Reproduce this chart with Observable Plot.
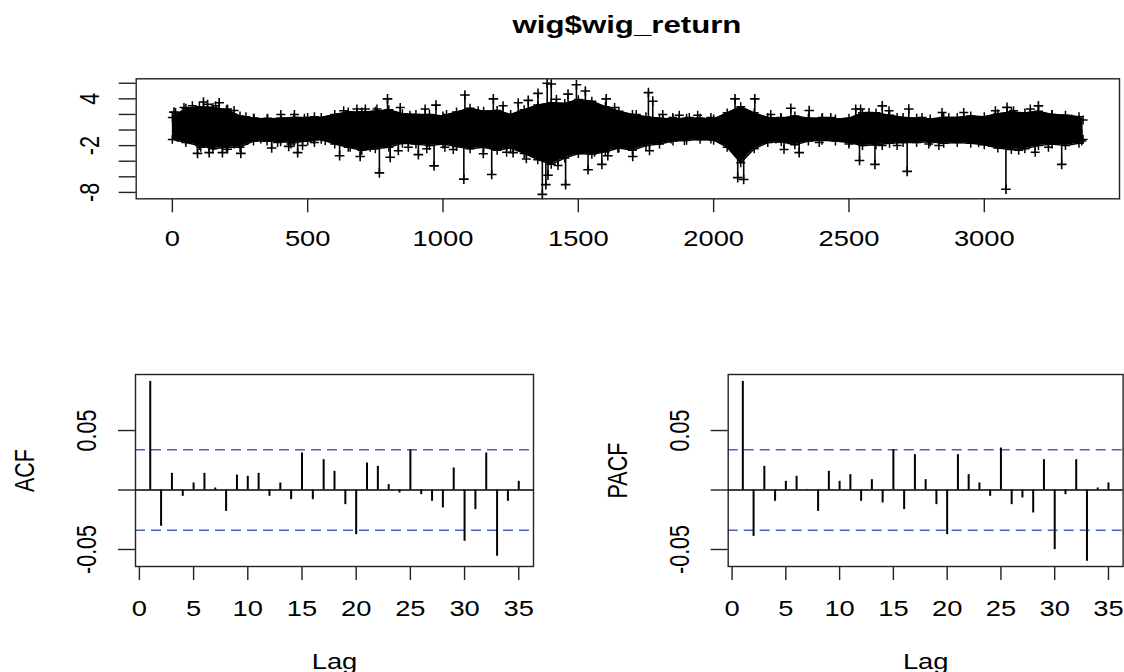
<!DOCTYPE html>
<html>
<head>
<meta charset="utf-8">
<script src="https://cdn.jsdelivr.net/npm/d3@7"></script>
<script src="https://cdn.jsdelivr.net/npm/@observablehq/plot@0.6"></script>
<style>
  html, body { margin: 0; padding: 0; background: #fff; }
  #wrap { position: relative; width: 1124px; height: 672px; overflow: hidden; background: #fff; font-family: "Liberation Sans", Arial, sans-serif; }
  #title { position: absolute; left: 0; width: 1254px; top: 11px; text-align: center; font-weight: bold; font-size: 24px; line-height: 28px; color: #000; transform: scaleX(1.3); transform-origin: 627px 50%; }
  .panel { position: absolute; }
</style>
</head>
<body>
<div id="wrap">
  <div id="title">wig$wig_return</div>
  <div id="top" class="panel" style="left:0;top:0"></div>
  <div id="acf" class="panel" style="left:0;top:300px"></div>
  <div id="pacf" class="panel" style="left:562px;top:300px"></div>
</div>
<script>
// ---- data ----
const nObs = 3365;
const envIndex = [0,50,100,150,200,250,300,350,400,450,500,550,600,650,700,750,800,850,900,950,1000,1050,1100,1150,1200,1250,1300,1350,1400,1450,1500,1550,1600,1650,1700,1750,1800,1850,1900,1950,2000,2050,2100,2150,2200,2250,2300,2350,2400,2450,2500,2550,2600,2650,2700,2750,2800,2850,2900,2950,3000,3050,3100,3150,3200,3250,3300,3350,3365];
const envUpper = [1.6,2.8,3.0,2.9,2.6,1.8,1.5,1.4,1.5,1.6,1.6,1.6,2.0,2.3,2.3,2.4,2.6,2.1,2.0,2.0,1.8,2.3,2.8,2.4,2.5,2.0,2.6,3.2,3.5,3.4,3.9,3.7,3.0,2.4,2.0,1.7,1.5,1.4,1.5,1.5,1.4,2.2,3.0,2.2,1.6,1.5,1.8,1.5,1.5,1.4,1.5,2.2,2.2,1.9,1.6,1.5,1.4,1.6,1.6,1.8,1.7,2.1,2.3,2.2,2.4,2.0,1.9,1.7,1.3];
const envLower = [-1.2,-1.6,-2.0,-2.4,-2.2,-2.2,-1.4,-1.4,-1.5,-1.6,-1.4,-1.2,-1.8,-2.2,-2.6,-2.4,-2.2,-1.7,-1.8,-2.0,-1.8,-2.1,-2.4,-2.2,-2.6,-2.3,-3.0,-3.8,-4.4,-3.6,-3.0,-3.1,-2.8,-2.3,-2.6,-2.0,-1.8,-1.4,-1.3,-1.2,-1.3,-2.2,-4.2,-2.4,-1.6,-1.5,-1.9,-1.4,-1.3,-1.4,-1.6,-2.0,-1.9,-1.7,-1.6,-1.6,-1.5,-1.7,-1.6,-1.7,-1.9,-2.3,-2.5,-2.4,-2.0,-1.8,-2.0,-1.7,-1.2];
// large isolated returns
const spikeIndex = [6,115,173,795,974,1081,1186,1315,1351,1385,1400,1462,1493,1526,1603,1759,1775,2079,2152,2285,2353,2623,2721,3084,3200,
  93,136,185,253,367,430,463,618,694,765,805,909,967,1077,1180,1259,1367,1380,1388,1453,1536,1587,1609,1701,2089,2111,2316,2539,2596,2715,3080,3286];
const spikeValue = [2.3,3.6,3.5,4.0,3.2,4.5,4.0,3.8,4.7,6.0,5.9,4.6,5.8,5.0,4.0,4.8,3.7,4.0,4.0,2.8,2.5,3.1,2.7,2.9,3.1,
  -3.0,-2.9,-2.9,-3.0,-2.3,-2.1,-2.9,-3.3,-3.4,-5.5,-3.5,-3.15,-4.6,-6.3,-5.7,-2.9,-8.25,-7.0,-5.8,-7.0,-5.1,-4.4,-3.3,-3.4,-6.1,-6.35,-2.9,-3.9,-4.4,-5.3,-7.6,-4.4];
// smaller returns sticking out of the band
const minorIndex = [12,43,74,130,160,204,228,272,302,352,401,451,488,525,633,682,713,756,842,878,934,1013,1050,1130,1222,1278,1419,1634,1671,1714,1812,1849,1873,1910,1941,1990,2058,2211,2248,2402,2433,2525,2543,2574,2648,2678,2770,2844,2869,2924,3041,3108,3170,3250,3323,
  19,49,105,154,204,228,278,327,389,438,481,525,522,565,657,731,835,872,940,1007,1038,1149,1235,1308,1425,1560,1646,1763,1843,1892,1990,2193,2230,2260,2390,2500,2623,2678,2795,2832,2979,3016,3127,3188,3237,3360];
const minorValue = [2.25,2.9,3.1,3.3,3.1,2.7,2.5,1.7,1.5,1.5,2.0,2.0,1.5,1.7,2.46,2.7,2.7,2.7,2.9,1.9,2.7,2.0,1.6,2.46,3.1,3.5,3.95,2.9,1.6,2.0,2.0,1.6,1.9,1.6,1.9,1.6,1.75,2.0,1.6,1.6,1.6,2.7,2.7,2.25,2.46,1.6,1.6,2.25,1.6,2.25,2.46,2.46,2.7,2.0,1.4,
  -0.95,-1.35,-2.2,-2.0,-2.45,-1.8,-1.35,-1.15,-1.6,-1.8,-2.0,-1.6,-1.15,-1.35,-2.2,-2.2,-2.65,-2.2,-2.4,-2.2,-2.5,-3.05,-2.85,-3.7,-4.55,-2.85,-2.35,-2.65,-1.15,-1.35,-1.15,-0.95,-1.15,-2.5,-1.6,-1.8,-2.0,-2.0,-1.8,-2.0,-1.6,-1.6,-2.6,-2.85,-2.2,-1.4];
const tsXTicks = [0,500,1000,1500,2000,2500,3000];
const tsYTicks = [-8,-6,-4,-2,0,2,4,6];
const tsYLabels = [-8,-2,4];

const lags = d3.range(1, 36);
const acfValues = [0.0913,-0.0305,0.0140,-0.0053,0.0059,0.0140,0.0017,-0.0180,0.0126,0.0115,0.0140,-0.0053,0.0059,-0.0081,0.0311,-0.0081,0.0255,0.0157,-0.0123,-0.0375,0.0227,0.0199,0.0045,-0.0025,0.0336,-0.0039,-0.0095,-0.0151,0.0185,-0.0431,-0.0165,0.0311,-0.0557,-0.0095,0.0073];
const pacfValues = [0.0913,-0.0390,0.0199,-0.0095,0.0073,0.0115,0.0005,-0.0180,0.0157,0.0073,0.0129,-0.0095,0.0087,-0.0109,0.0339,-0.0165,0.0297,0.0087,-0.0123,-0.0375,0.0297,0.0129,0.0059,-0.0053,0.0353,-0.0123,-0.0067,-0.0193,0.0255,-0.0501,-0.0039,0.0255,-0.0599,0.0017,0.0059];
const confBound = 0.0338;
const lagTicks = [0,5,10,15,20,25,30,35];
const corrTicks = [-0.05,0,0.05];
const corrLabels = [-0.05,0.05];

// ---- tables ----
const env = envIndex.map((x,i) => ({x, hi: envUpper[i], lo: envLower[i]}));
const spikes = spikeIndex.map((x,i) => ({x, v: spikeValue[i]}));
const minors = minorIndex.map((x,i) => ({x, v: minorValue[i]}));
const acfData = lags.map((l,i) => ({lag: l, v: acfValues[i]}));
const pacfData = lags.map((l,i) => ({lag: l, v: pacfValues[i]}));

const BASE = 21.5, STRETCH = 1.27;
const fontStyle = {fontFamily: "Liberation Sans, Arial, sans-serif", fontSize: BASE + "px", color: "#000", background: "transparent", overflow: "visible"};

// emulate the horizontally stretched R device text
function stretchText(svg) {
  svg.querySelectorAll("text").forEach(t => {
    const tr = t.getAttribute("transform") || "";
    const len = t.getComputedTextLength();
    if (!len) return;
    if (tr.includes("rotate")) {
      t.style.fontSize = (BASE * STRETCH) + "px";
      t.setAttribute("textLength", len);
    } else {
      t.setAttribute("textLength", len * STRETCH);
    }
    t.setAttribute("lengthAdjust", "spacingAndGlyphs");
  });
}

// ---- top: time series ----
const yMin = -8.25, yMax = 6.0, ySpan = yMax - yMin;
const topPlot = Plot.plot({
  width: 1124, height: 280,
  marginLeft: 135.7, marginRight: 5, marginTop: 78.3, marginBottom: 81.7,
  style: fontStyle,
  x: {domain: [1 - 0.04*(nObs-1), nObs + 0.04*(nObs-1)], label: null},
  y: {domain: [yMin - 0.04*ySpan, yMax + 0.04*ySpan], label: null},
  marks: [
    Plot.areaY(env, {x: "x", y1: "lo", y2: "hi", fill: "#000"}),
    Plot.line(env, {x: "x", y: "hi", stroke: "#000", strokeWidth: 1.5}),
    Plot.line(env, {x: "x", y: "lo", stroke: "#000", strokeWidth: 1.5}),
    Plot.dot(env, {x: "x", y: "hi", symbol: "plus", r: 3, stroke: "#000", strokeWidth: 1.5}),
    Plot.dot(env, {x: "x", y: "lo", symbol: "plus", r: 3, stroke: "#000", strokeWidth: 1.5}),
    Plot.ruleX(minors, {x: "x", y1: 0, y2: "v", stroke: "#000", strokeWidth: 1.6}),
    Plot.dot(minors, {x: "x", y: "v", symbol: "plus", r: 3, stroke: "#000", strokeWidth: 1.5}),
    Plot.ruleX(spikes, {x: "x", y1: 0, y2: "v", stroke: "#000", strokeWidth: 1.6}),
    Plot.dot(spikes, {x: "x", y: "v", symbol: "plus", r: 3.2, stroke: "#000", strokeWidth: 1.6}),
    Plot.frame({stroke: "#222", strokeWidth: 1.4}),
    Plot.axisX(tsXTicks, {label: null, tickSize: 14, tickPadding: 18, tickFormat: d => String(d), stroke: "#222", strokeWidth: 1.4}),
    Plot.axisY(tsYTicks, {label: null, tickSize: 17, tickFormat: () => "", stroke: "#222", strokeWidth: 1.4}),
    Plot.text(tsYLabels, {y: d => d, text: d => String(d), rotate: -90, frameAnchor: "left", textAnchor: "middle", dx: -46, fill: "#000"})
  ]
});
document.getElementById("top").appendChild(topPlot);
stretchText(topPlot);

// ---- correlogram panels ----
function corrPlot(data, label, mLeft, mRight) {
  return Plot.plot({
    width: 562, height: 372,
    marginLeft: mLeft, marginRight: mRight, marginTop: 74, marginBottom: 106,
    style: fontStyle,
    x: {domain: [1 - 0.04*34, 35 + 0.04*34], label: null},
    y: {domain: [-0.0643, 0.0971], label: null},
    marks: [
      Plot.ruleY([confBound, -confBound], {stroke: "#4a5fc4", strokeWidth: 1.6, strokeDasharray: "10,6"}),
      Plot.ruleY([0], {stroke: "#000", strokeWidth: 1.5}),
      Plot.ruleX(data, {x: "lag", y1: 0, y2: "v", stroke: "#000", strokeWidth: 2}),
      Plot.frame({stroke: "#222", strokeWidth: 1.4}),
      Plot.axisX(lagTicks, {label: null, tickSize: 14, tickPadding: 20, tickFormat: d => String(d), stroke: "#222", strokeWidth: 1.4}),
      Plot.axisY(corrTicks, {label: null, tickSize: 17, tickFormat: () => "", stroke: "#222", strokeWidth: 1.4}),
      Plot.text(corrLabels, {y: d => d, text: d => d.toFixed(2), rotate: -90, frameAnchor: "left", textAnchor: "middle", dx: -48, fill: "#000"}),
      Plot.text([label], {frameAnchor: "left", textAnchor: "middle", dx: -110, rotate: -90, fill: "#000"}),
      Plot.text(["Lag"], {frameAnchor: "bottom", textAnchor: "middle", dy: 102, fill: "#000"})
    ]
  });
}
const acfPlot = corrPlot(acfData, "ACF", 135, 29);
document.getElementById("acf").appendChild(acfPlot);
stretchText(acfPlot);
const pacfPlot = corrPlot(pacfData, "PACF", 165.7, 1.4);
document.getElementById("pacf").appendChild(pacfPlot);
stretchText(pacfPlot);
</script>
</body>
</html>
